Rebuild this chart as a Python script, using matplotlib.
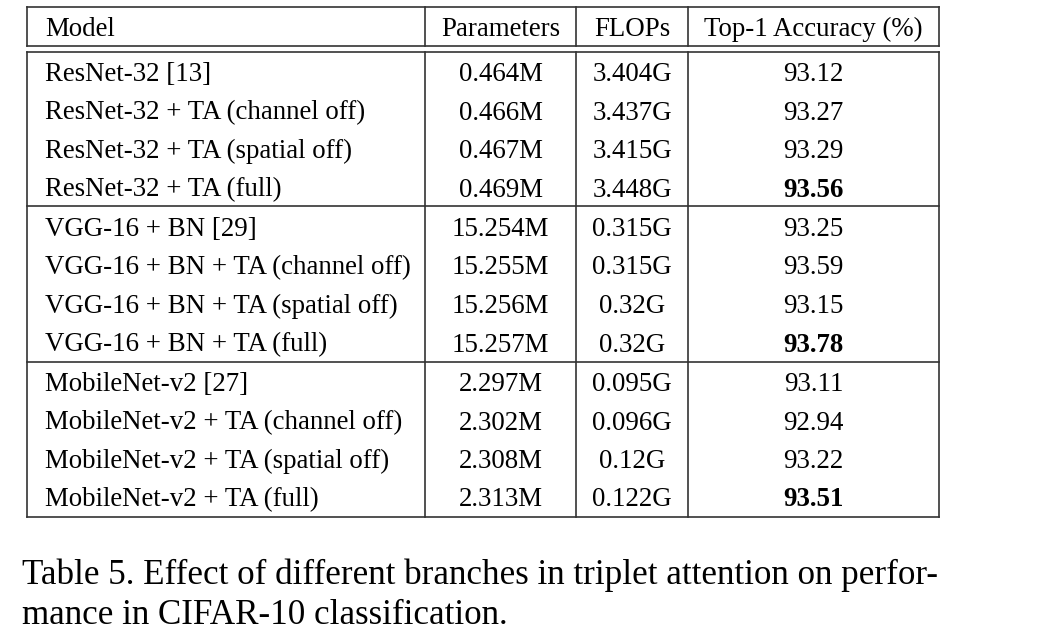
import matplotlib
matplotlib.use("Agg")
import matplotlib.pyplot as plt
from matplotlib.lines import Line2D

headers = ["Model", "Parameters", "FLOPs", "Top-1 Accuracy (%)"]
models = ["ResNet-32 [13]", "ResNet-32 + TA (channel off)", "ResNet-32 + TA (spatial off)", "ResNet-32 + TA (full)",
          "VGG-16 + BN [29]", "VGG-16 + BN + TA (channel off)", "VGG-16 + BN + TA (spatial off)", "VGG-16 + BN + TA (full)",
          "MobileNet-v2 [27]", "MobileNet-v2 + TA (channel off)", "MobileNet-v2 + TA (spatial off)", "MobileNet-v2 + TA (full)"]
params = ["0.464M", "0.466M", "0.467M", "0.469M",
          "15.254M", "15.255M", "15.256M", "15.257M",
          "2.297M", "2.302M", "2.308M", "2.313M"]
flops = ["3.404G", "3.437G", "3.415G", "3.448G",
         "0.315G", "0.315G", "0.32G", "0.32G",
         "0.095G", "0.096G", "0.12G", "0.122G"]
accuracy = ["93.12", "93.27", "93.29", "93.56",
            "93.25", "93.59", "93.15", "93.78",
            "93.11", "92.94", "93.22", "93.51"]
best = [False, False, False, True, False, False, False, True, False, False, False, True]
caption = ["Table 5. Effect of different branches in triplet attention on perfor-",
           "mance in CIFAR-10 classification."]

W, H = 1038, 635
fig = plt.figure(figsize=(W / 100, H / 100), dpi=100)
fig.patch.set_facecolor("white")
FONT = "Liberation Serif"
FS = 19.4
CFS = 25.2

def px(x, y):
    return x / W, 1 - y / H

def hline(y, x0=27, x1=939):
    a, b = px(x0, y)
    c, d = px(x1, y)
    fig.add_artist(Line2D([a, c], [b, d], color="#333333", lw=1.2))

def vline(x, y0, y1):
    a, b = px(x, y0)
    c, d = px(x, y1)
    fig.add_artist(Line2D([a, c], [b, d], color="#333333", lw=1.2))

def text(x, y, s, ha="center", weight="normal", size=FS):
    a, b = px(x, y)
    fig.text(a, b, s, ha=ha, va="baseline", fontsize=size, family=FONT, weight=weight, color="black")

xs = [27, 425, 576, 688, 939]
top, hb1, hb2, bottom = 7, 46, 52, 517
for x in xs:
    vline(x, top, hb1)
    vline(x, hb2, bottom)
hline(top); hline(hb1); hline(hb2); hline(206); hline(362); hline(bottom)

centers = [(xs[i] + xs[i + 1]) / 2 for i in range(4)]
text(45, 35.5, headers[0], ha="left")
for i in range(1, 4):
    text(centers[i], 35.5, headers[i])

row_base = [81, 119.5, 158, 196.5, 236, 274.5, 313, 351.5, 391, 429.5, 468, 506.5]
for i, y in enumerate(row_base):
    text(45, y, models[i], ha="left")
    text(centers[1], y, params[i])
    text(centers[2], y, flops[i])
    text(centers[3], y, accuracy[i], weight="bold" if best[i] else "normal")

text(22, 584, caption[0], ha="left", size=CFS)
text(22, 624, caption[1], ha="left", size=CFS)

fig.savefig("out.png", dpi=100, facecolor="white")
